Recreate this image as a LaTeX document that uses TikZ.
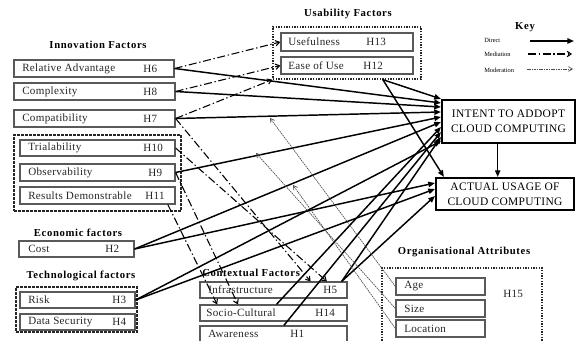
\documentclass[tikz,border=0pt]{standalone}
\usepackage{fontspec}
\setmainfont{Liberation Serif}
\newfontfamily\ttlfont{Liberation Serif}[LetterSpace=6]
\newfontfamily\boxfont{Liberation Serif}[LetterSpace=3]
\usetikzlibrary{arrows.meta,calc,fit}
\begin{document}
\begin{tikzpicture}[x=0.75pt,y=-0.75pt,
  box/.style={draw=black!65, line width=0.9pt, inner sep=0pt},
  grpdash/.style={draw=black!85, line width=0.9pt, dash pattern=on 2pt off 1pt, inner sep=0pt},
  grpdot/.style={draw=black!85, line width=1pt, dash pattern=on 1pt off 1pt, inner sep=0pt},
  bigbox/.style={draw=black, line width=1.6pt, inner sep=0pt},
  lbl/.style={anchor=west, inner sep=0pt, text=black!85, font=\boxfont\fontsize{8.3}{10}\selectfont},
  ttl/.style={inner sep=0pt, font=\ttlfont\bfseries\fontsize{8}{10}\selectfont},
  keylbl/.style={anchor=west, inner sep=0pt, font=\fontsize{4.8}{6}\selectfont},
  bigtxt/.style={inner sep=0pt, align=center, font=\boxfont\fontsize{8.6}{11}\selectfont},
  direct/.style={line width=1.1pt, -{Triangle[length=5pt,width=4pt]}},
  mediation/.style={line width=0.8pt, dash pattern=on 6pt off 2pt on 1pt off 2pt, -{Straight Barb[length=3pt,width=4pt]}},
  moderation/.style={line width=0.5pt, draw=black!70, dash pattern=on 1.2pt off 0.6pt, -{Straight Barb[length=3pt,width=3.5pt]}}]
\useasboundingbox (0,0) rectangle (580,341);

% ---------- titles ----------
\node[ttl] (t-inno) at (98,45) {Innovation Factors};
\node[ttl] (t-econ) at (78,233) {Economic factors};
\node[ttl] (t-tech) at (81,276) {Technological factors};
\node[ttl, anchor=west] (t-ctx) at (202,273) {Contextual Factors};
\node[ttl] (t-usab) at (348,14) {Usability Factors};
\node[ttl] (t-org) at (464,252) {Organisational Attributes};

% ---------- innovation factors ----------
\node[box, fit={(14,60) (174,77)}] (ra) {};
\node[lbl] (ra-t) at (22,68.5) {Relative Advantage};
\node[lbl] (ra-h) at (143,68.5) {H6};
\node[box, fit={(14,83) (175,100)}] (cx) {};
\node[lbl] (cx-t) at (22,91.5) {Complexity};
\node[lbl] (cx-h) at (143,91.5) {H8};
\node[box, fit={(14,110) (175,127)}] (cp) {};
\node[lbl] (cp-t) at (22,118.5) {Compatibility};
\node[lbl] (cp-h) at (143,118.5) {H7};
\node[grpdash, fit={(14,135) (181,211)}] (innogrp) {};
\node[box, fit={(20,140) (175,156)}] (tr) {};
\node[lbl] (tr-t) at (28,148) {Trialability};
\node[lbl] (tr-h) at (143,148) {H10};
\node[box, fit={(20,164) (175,181)}] (ob) {};
\node[lbl] (ob-t) at (28,172.5) {Observability};
\node[lbl] (ob-h) at (148,172.5) {H9};
\node[box, fit={(20,187) (175,204)}] (rd) {};
\node[lbl] (rd-t) at (28,195.5) {Results Demonstrable};
\node[lbl] (rd-h) at (145,195.5) {H11};

% ---------- economic ----------
\node[box, fit={(19,241) (134,257)}] (cost) {};
\node[lbl] (cost-t) at (28,249) {Cost};
\node[lbl] (cost-h) at (105,249) {H2};

% ---------- technological ----------
\node[grpdash, fit={(16,287) (137,332)}] (techgrp) {};
\node[box, fit={(20,292) (135,308)}] (risk) {};
\node[lbl] (risk-t) at (28,300) {Risk};
\node[lbl] (risk-h) at (112,300) {H3};
\node[box, fit={(20,314) (135,330)}] (ds) {};
\node[lbl] (ds-t) at (28,322) {Data Security};
\node[lbl] (ds-h) at (112,322) {H4};

% ---------- contextual ----------
\node[box, fit={(200,282) (347,298)}] (inf) {};
\node[lbl] (inf-t) at (208,290) {Infrastructure};
\node[lbl] (inf-h) at (323,290) {H5};
\node[box, fit={(200,305) (347,321)}] (sc) {};
\node[lbl] (sc-t) at (206,313) {Socio-Cultural};
\node[lbl] (sc-h) at (315,313) {H14};
\node[box, fit={(200,326) (347,346)}] (aw) {};
\node[lbl] (aw-t) at (208,334) {Awareness};
\node[lbl] (aw-h) at (290,334) {H1};

% ---------- usability ----------
\node[grpdot, fit={(273,27) (421,79)}] (usegrp) {};
\node[box, fit={(281,33) (413,51)}] (uf) {};
\node[lbl] (uf-t) at (288,42) {Usefulness};
\node[lbl] (uf-h) at (366,42) {H13};
\node[box, fit={(281,57) (413,74)}] (eu) {};
\node[lbl] (eu-t) at (288,65.5) {Ease of Use};
\node[lbl] (eu-h) at (363,65.5) {H12};

% ---------- outcome boxes ----------
\node[bigbox, fit={(442,100) (575,143)}] (intent) {};
\node[bigtxt] (intent-t) at (508.5,121) {INTENT TO ADDOPT\\CLOUD COMPUTING};
\node[bigbox, fit={(436,178) (574,210)}] (actual) {};
\node[bigtxt] (actual-t) at (505,194) {ACTUAL USAGE OF\\CLOUD COMPUTING};

% ---------- organisational ----------
\node[grpdot, fit={(382,268) (542,346)}] (orggrp) {};
\node[box, fit={(396,278) (485,295)}] (age) {};
\node[lbl] (age-t) at (404,286.5) {Age};
\node[box, fit={(396,300) (485,317)}] (size) {};
\node[lbl] (size-t) at (404,308.5) {Size};
\node[box, fit={(396,320) (485,337)}] (loc) {};
\node[lbl] (loc-t) at (404,328.5) {Location};
\node[lbl] (h15) at (503,294) {H15};

% ---------- key ----------
\node[ttl] (k-title) at (525,27) {Key};
\node[keylbl] (k-d) at (484,40) {Direct};
\node[keylbl] (k-me) at (484,54) {Mediation};
\node[keylbl] (k-mo) at (484,70) {Moderation};
\coordinate (kd1) at (530,41);  \coordinate (kd2) at (574,41);
\coordinate (km1) at (528,54);  \coordinate (km2) at (572,54);
\coordinate (ko1) at (527,69);  \coordinate (ko2) at (573,69);
\draw[direct] (kd1) -- (kd2);
\draw[mediation] (km1) -- (km2);
\draw[moderation] (ko1) -- (ko2);

% ---------- direct connectors ----------
\coordinate (eusrc) at ($(usegrp.south west)!0.74!(usegrp.south east)$);
\coordinate (scsrc) at ($(sc.north west)!0.52!(sc.north east)$);
\coordinate (awsrc) at ($(aw.north west)!0.57!(aw.north east)$);
\coordinate (infsrc) at ($(inf.north west)!0.96!(inf.north east)$);
\coordinate (intsrc) at ($(intent.south west)!0.42!(intent.south east)$);
\draw[direct] (ra.east) -- (intent.west |- 0,103);
\draw[direct] (cx.east) -- (intent.west |- 0,107);
\draw[direct] (cp.east) -- (intent.west |- 0,112);
\draw[direct] (eusrc) -- (intent.north west);
\draw[direct] (ob.east) -- (intent.west |- 0,117);
\draw[direct] (cost.east) -- (intent.west |- 0,122);
\draw[direct] (scsrc) -- (intent.west |- 0,127);
\draw[direct] (awsrc) -- (intent.west |- 0,132);
\draw[direct] (infsrc) -- (intent.west |- 0,137);
\draw[direct] (risk.east) -- (intent.west |- 0,141);
\draw[direct] (cost.east) -- (actual.west |- 0,183);
\draw[direct] (risk.east) -- (actual.west |- 0,189);
\draw[direct] (infsrc) -- (actual.west |- 0,196);
\draw[direct] (eusrc) -- ($(actual.north west)+(9,0)$);
\draw[direct] (intsrc) -- (intsrc |- actual.north);

% ---------- mediation connectors ----------
\draw[mediation] (ra.east) -- (uf.west);
\draw[mediation] (cx.east) -- (eu.west);
\draw[mediation] (cp.east) -- (usegrp.south west);
\draw[mediation] (cp.east) -- ($(inf.north west)!0.75!(inf.north east)$);
\draw[mediation] (tr.east) -- ($(inf.north west)!0.86!(inf.north east)$);
\draw[mediation] (ob.east) -- ($(sc.north west)!0.26!(sc.north east)$);
\draw[mediation] ($(rd.south west)!0.95!(rd.south east)$) -- ($(sc.north west)!0.12!(sc.north east)$);

% ---------- moderation connectors ----------
\coordinate (mod1) at (270,118);
\coordinate (mod2) at (256,153);
\coordinate (mod3) at (293,185);
\draw[moderation] (age.west) -- (mod1);
\draw[moderation] (size.west) -- (mod2);
\draw[moderation] (loc.west) -- (mod3);
\end{tikzpicture}
\end{document}
